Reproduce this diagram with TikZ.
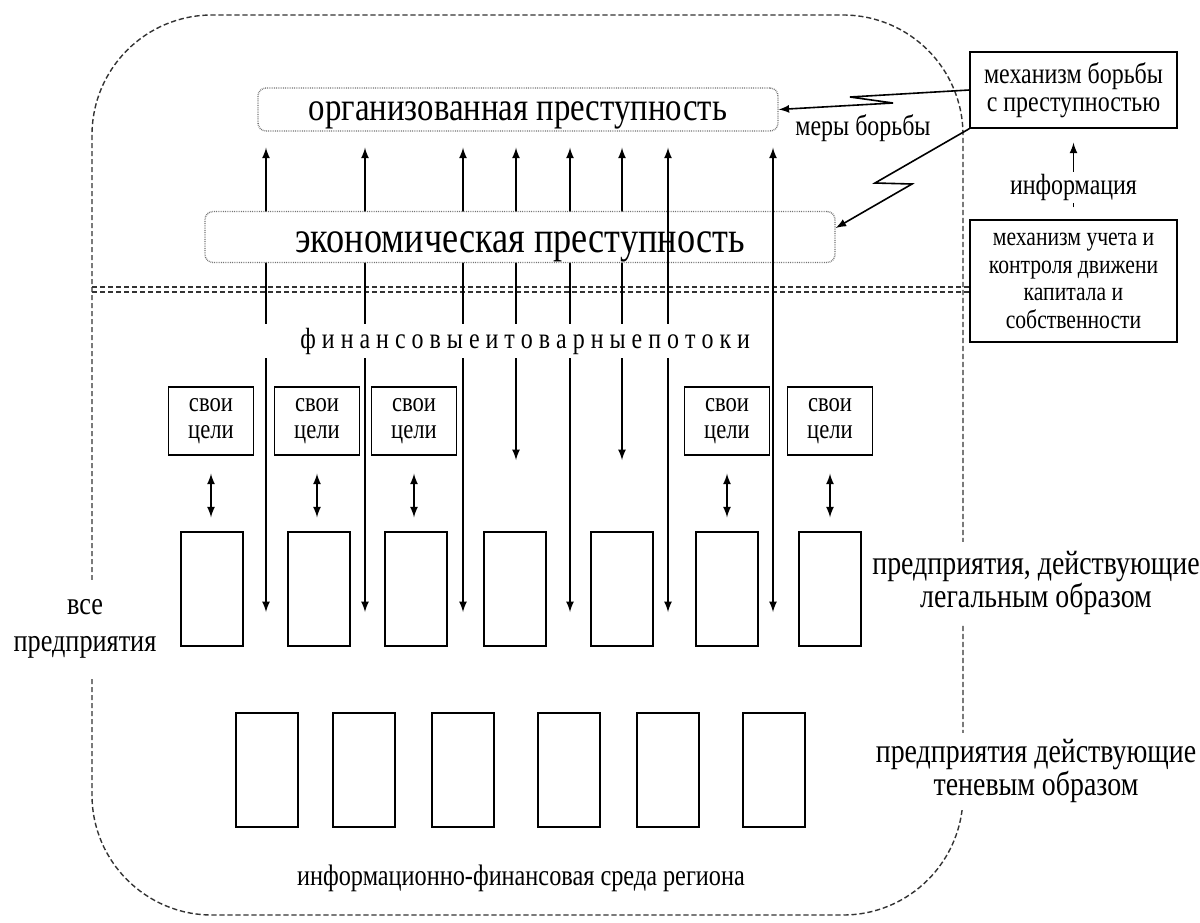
\documentclass[tikz,border=0pt]{standalone}
\usepackage{fontspec}
\setmainfont{Liberation Serif}[FakeStretch=0.82]
\usepackage{tikz}

\tikzset{
  frame/.style={draw=black!80, line width=0.7pt, dash pattern=on 2.6pt off 1.4pt},
  crimebox/.style={draw=black!55, line width=0.7pt, dash pattern=on 0.4pt off 0.5pt,
    rounded corners=4pt, fill=white, inner sep=0pt},
  mechbox/.style={draw, line width=0.7pt, align=center, inner sep=0pt, fill=white},
  goalbox/.style={draw, line width=0.7pt, align=center, inner sep=0pt,
    minimum width=42.5pt, minimum height=34pt, font=\fontsize{13.8}{13.5}\selectfont},
  firm/.style={draw, line width=0.7pt, minimum width=31pt, minimum height=57pt, inner sep=0pt},
  flow/.style={<->, line width=0.8pt, shorten >=8pt},
  goal/.style={<->, line width=0.8pt, shorten <=9pt, shorten >=7pt},
  side/.style={fill=white, align=center, inner sep=2pt},
  small/.style={font=\fontsize{14.6}{14}\selectfont},
}

\begin{document}
\begin{tikzpicture}[x=0.5pt,y=-0.5pt,>=latex]
 \pgfmathsetmacro{\ylong}{612}
 \pgfmathsetmacro{\yshort}{460}
 \useasboundingbox (0,0) rectangle (1200,922);

 % region and border
 \draw[frame, rounded corners=60pt] (92,15) rectangle (963,915);
 \draw[frame] (92,287) -- (970,287);
 \draw[frame] (92,292) -- (970,292);

 \node[side, font=\fontsize{16}{18.5}\selectfont, minimum height=49pt] (all) at (85,629) {все\\предприятия};
 \node[side, font=\fontsize{17}{14}\selectfont, minimum height=41.5pt] (legal) at (1036,583) {предприятия, действующие\\легальным образом};
 \node[side, font=\fontsize{17}{14}\selectfont, minimum height=38.5pt] (shadow) at (1036,771) {предприятия действующие\\теневым образом};

 \node[crimebox, minimum width=260pt, minimum height=21.5pt, text height=15pt, text depth=4.5pt,
   font=\fontsize{20}{24}\selectfont] (org) at (518,109.5) {организованная преступность};

 \foreach \i/\x/\y in {1/266/\ylong, 2/365/\ylong, 3/463/\ylong, 4/516/\yshort, 5/570/\ylong, 6/622/\yshort}{
   \coordinate (f\i) at (\x,\y);
   \draw[flow] (f\i) -- (f\i |- org.south);
 }

 \node[crimebox, minimum width=315pt, minimum height=25.5pt, text height=20pt, text depth=5pt,
   font=\fontsize{22.1}{26}\selectfont] (econ) at (520,237) {экономическая преступность};

 \foreach \i/\x in {7/668, 8/773}{
   \coordinate (f\i) at (\x,\ylong);
   \draw[flow] (f\i) -- (f\i |- org.south);
 }

 \node[fill=white, inner xsep=5pt, inner ysep=0pt, minimum height=17pt, text width=241pt, align=flush right,
   font=\fontsize{14.6}{16}\selectfont] (flows) at (509,341) {\spaceskip=3pt\relax ф и н а н с о в ы е и т о в а р н ы е п о т о к и};

 % enterprises
 \foreach \i/\x in {1/212, 2/319, 3/416, 4/515, 5/622, 6/727, 7/830}
   \node[firm] (legal\i) at (\x,589) {};
 \foreach \i/\x in {1/267, 2/364, 3/463, 4/569, 5/668, 6/774}
   \node[firm] (shadow\i) at (\x,770) {};
 \foreach \i/\x in {1/211, 2/317, 3/414, 4/727, 5/830}
   \node[goalbox] (goal\i) at (\x,421) {свои\\цели};
 \foreach \g/\l in {1/1, 2/2, 3/3, 4/6, 5/7}
   \draw[goal] (goal\g.south) -- (goal\g.south |- legal\l.north);

 \node[font=\fontsize{14.8}{16}\selectfont] (env) at (521,878) {информационно-финансовая среда региона};

 % mechanisms
 \node[mechbox, small, minimum width=103.5pt, minimum height=38pt] (fight) at (1073.5,90) {механизм борьбы\\ с преступностью};
 \node[mechbox, minimum width=103.5pt, minimum height=61pt, font=\fontsize{13.2}{13.8}\selectfont] (control) at (1073.5,281) {механизм учета и\\контроля движени\\капитала и\\собственности};

 \draw[->, line width=0.8pt] (fight.west) -- (850,97) -- (893,103) -- (org.east);
 \node[small] (measures) at (863,128) {меры борьбы};
 \draw[->, line width=0.8pt] (fight.south west) -- (875,183) -- (912,184) -- ([yshift=4.5pt]econ.east);
 \draw[->, line width=0.8pt, shorten <=6pt, shorten >=7pt] (control) -- node[pos=0.35, fill=white, inner sep=1pt, small] (info) {информация} (fight);

\end{tikzpicture}
\end{document}
